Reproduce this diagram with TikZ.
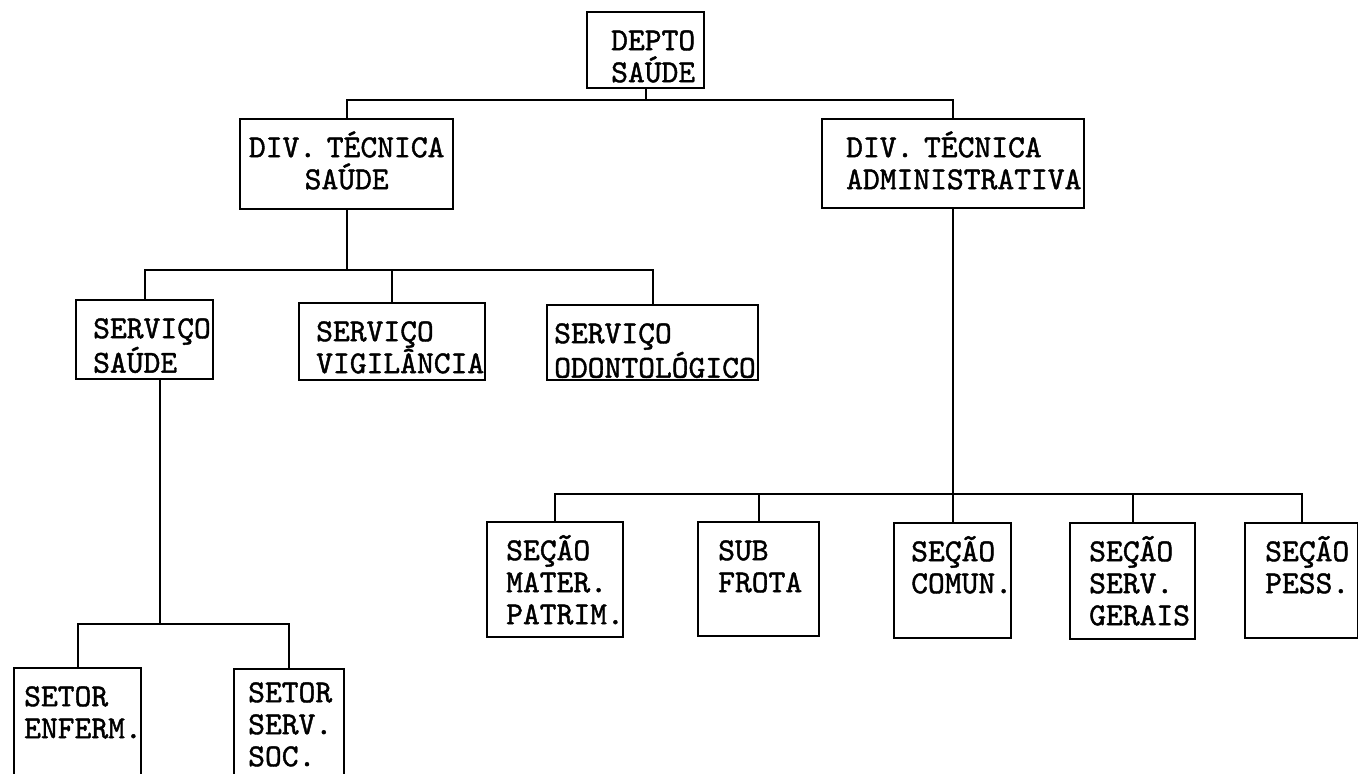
\documentclass[tikz,border=0pt]{standalone}
\usepackage{fontspec}
\newfontfamily\typew{lmmono10-regular.otf}[FakeBold=1.3]
\hyphenpenalty=10000
\exhyphenpenalty=10000

\begin{document}
\begin{tikzpicture}[x=0.5pt, y=-0.5pt, line width=1.2pt,
  font=\typew\fontsize{16}{16}\selectfont,
  box/.style={draw, anchor=north west, align=left, inner ysep=0pt, text height=19pt}]
\useasboundingbox (0,0) rectangle (1358,774);
% top and divisions
\node[box, inner xsep=12pt, text width=34.5pt, text depth=19pt] (depto) at (586,11) {DEPTO\\SAÚDE};
\node[box, align=center, inner xsep=2pt, text width=102.5pt, text depth=26pt] (divs) at (239,118) {DIV.~TÉCNICA\\SAÚDE};
\node[box, inner xsep=12pt, text width=107pt, text depth=25.5pt] (diva) at (821,118) {DIV.~TÉCNICA\\ADMINISTRATIVA};
% services
\node[box, inner xsep=8.5pt, text width=51.5pt, text depth=20.5pt] (servs) at (75,299) {SERVIÇO\\SAÚDE};
\node[box, inner xsep=8.5pt, text width=76pt, text depth=19.5pt] (vig) at (298,302) {SERVIÇO\\VIGILÂNCIA};
\node[box, inner xsep=3.5pt, text width=98.5pt, text depth=18.5pt] (odonto) at (546,304) {SERVIÇO\\ODONTOLÓGICO};
% sections
\node[box, inner xsep=9.5pt, text width=49pt, text depth=38.5pt] (mater) at (486,521) {SEÇÃO\\MATER.\\PATRIM.};
\node[box, inner xsep=10pt, text width=40.5pt, text depth=38pt] (sub) at (697,521) {SUB\\FROTA};
\node[box, inner xsep=8.5pt, text width=41.5pt, text depth=38.5pt] (comun) at (893,522) {SEÇÃO\\COMUN.};
\node[box, inner xsep=9.5pt, text width=43.5pt, text depth=39pt] (gerais) at (1069,522) {SEÇÃO\\SERV.\\GERAIS};
\node[box, inner xsep=10pt, text width=36.5pt, text depth=38.5pt] (pess) at (1244,522) {SEÇÃO\\PESS.};
% sectors
\node[box, inner xsep=5pt, text width=53.5pt, text depth=41pt] (enferm) at (13,667) {SETOR\\ENFERM.};
\node[box, inner xsep=7pt, text width=41pt, text height=16.5pt, text depth=43.5pt] (soc) at (233,668) {SETOR\\SERV.\\SOC.};

\coordinate (j0) at (644.5,100);
\coordinate (j1) at (345.5,270);
\coordinate (j2) at (160,624);
\coordinate (j3) at (952,494);

\draw (depto.south) -- (depto.south |- j0);
\draw (divs.north) |- (j0) -| (diva.north);
\draw (divs.south) -- (divs.south |- j1);
\draw (servs.north) |- (j1) -| (odonto.north);
\draw (vig.north) |- (j1);
\draw (servs.south -| j2) -- (j2);
\draw (enferm.north) |- (j2) -| (soc.north);
\draw (diva.south) -- (diva.south |- j3);
\draw (mater.north) |- (j3) -| (pess.north);
\foreach \n in {sub, comun, gerais} \draw (\n.north) |- (j3);
\end{tikzpicture}
\end{document}
